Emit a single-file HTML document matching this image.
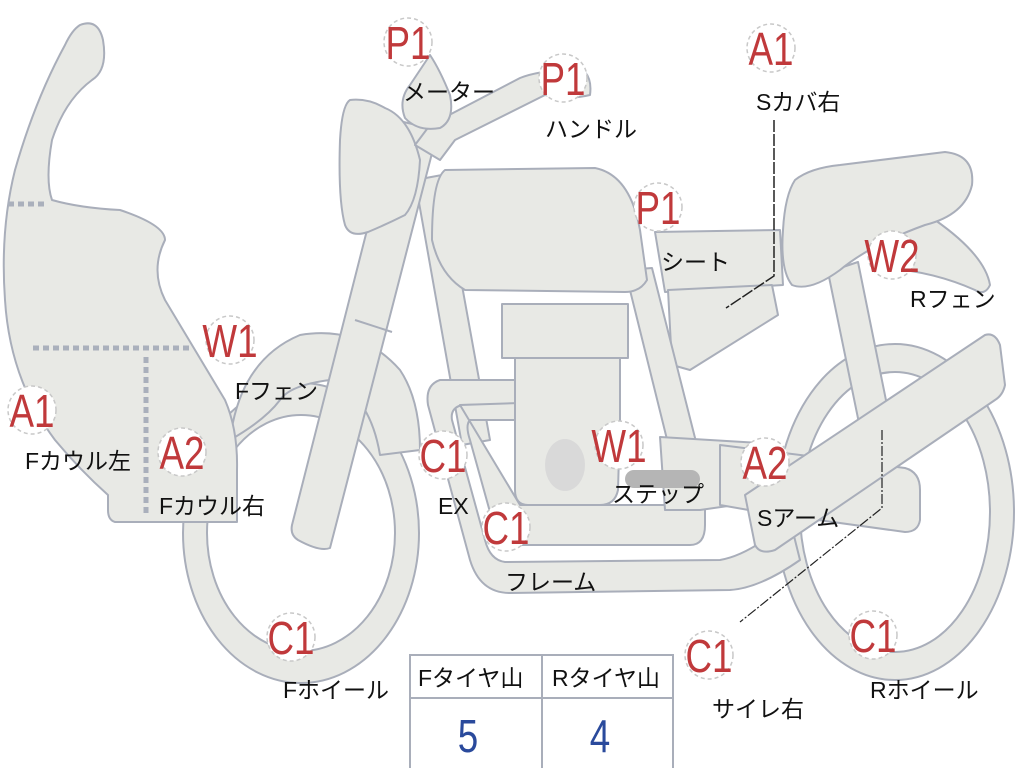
<!DOCTYPE html>
<html><head><meta charset="utf-8"><style>
html,body{margin:0;padding:0;background:#fff;}
svg{display:block;}
.s{fill:#e8e9e5;stroke:#a9aeba;stroke-width:2;stroke-linejoin:round;}
.b circle{fill:#fff;stroke:#c8c8c8;stroke-width:1.5;stroke-dasharray:4 3;}
.b text{fill:#c0393b;font-family:"Liberation Sans",sans-serif;font-size:46px;text-anchor:middle;}
.l{font-family:"Liberation Sans","Noto Sans CJK JP",sans-serif;font-size:23px;fill:#111;}
</style></head><body>
<svg width="1024" height="768" viewBox="0 0 1024 768" xmlns="http://www.w3.org/2000/svg">
<!-- rear wheel -->
<ellipse cx="895" cy="512" rx="119" ry="168" class="s"/>
<ellipse cx="895" cy="512" rx="95" ry="140" fill="#fff" stroke="#a9aeba" stroke-width="2"/>
<!-- front wheel -->
<ellipse cx="301" cy="533" rx="118" ry="150" class="s"/>
<ellipse cx="301" cy="533" rx="94" ry="118" fill="#fff" stroke="#a9aeba" stroke-width="2"/>
<!-- rear shock -->
<path class="s" d="M828 272 L858 262 L890 420 L860 428 Z"/>
<!-- rear fender -->
<path class="s" d="M880 240 Q910 215 935 220 Q985 255 990 285 Q985 296 975 290 Q930 270 880 268 Z"/>
<!-- seat -->
<path class="s" d="M795 180 Q810 168 840 165 L945 152 Q975 155 972 185 Q965 215 925 225 Q870 245 840 270 Q810 292 792 285 Q780 270 783 230 Q785 195 795 180 Z"/>
<path class="s" d="M655 232 L780 230 L783 285 L665 292 Z"/>
<path class="s" d="M668 290 L772 285 L778 315 L690 370 L672 365 Z"/>
<!-- front fender -->
<path class="s" d="M230 440 Q240 360 300 335 Q360 325 400 370 Q420 400 420 450 L380 455 Q370 395 330 380 Q290 385 280 400 Q265 420 230 440 Z"/>
<!-- frame tubes -->
<path class="s" d="M415 180 L442 175 L490 440 L462 445 Z"/>
<path class="s" d="M625 270 L652 268 L712 505 L684 508 Z"/>
<path class="s" d="M440 380 Q425 385 428 405 L470 560 Q480 593 510 593 L730 590 Q760 588 800 560 L790 520 Q750 555 720 560 L505 562 Q490 560 485 540 L452 420 Q450 408 462 405 L520 404 L520 380 Z"/>
<path class="s" d="M460 405 L520 403 L520 420 L470 420 Q465 425 470 440 L495 530 Q500 545 515 545 L690 545 Q705 545 705 525 L705 505 L690 505 L650 505 L520 505 Z"/>
<!-- engine -->
<path class="s" d="M515 355 L620 355 L620 420 L618 490 Q615 505 600 505 L528 505 Q515 505 515 490 Z"/>
<rect class="s" x="502" y="304" width="126" height="54"/>
<ellipse cx="565" cy="465" rx="20" ry="26" fill="#d9d9d9"/>
<path class="s" d="M660 437 L760 443 L770 500 L700 510 L665 510 Z"/>
<rect x="625" y="470" width="75" height="18" rx="9" fill="#b5b5b5"/>
<!-- swing arm / muffler -->
<path class="s" d="M720 445 L905 468 Q920 472 920 490 L920 520 Q918 532 905 532 L760 512 L720 505 Z"/>
<path class="s" d="M745 495 L985 335 Q995 332 1000 345 L1005 385 Q1003 395 995 400 L775 550 Q760 555 755 545 Z"/>
<!-- tank -->
<path class="s" d="M445 170 L595 168 Q630 175 640 230 L647 280 Q640 292 625 292 L465 290 Q440 275 432 240 Q432 180 445 170 Z"/>
<!-- fork -->
<path class="s" d="M395 120 L438 130 L330 548 Q320 552 298 540 Q290 535 292 525 Z"/>
<path class="s" d="M355 320 L392 332" fill="none"/>
<!-- headlight -->
<path class="s" d="M350 100 Q368 98 385 108 Q410 118 420 160 Q418 200 405 215 Q385 225 368 232 Q350 238 345 225 Q338 200 340 140 Q342 105 350 100 Z"/>
<!-- handlebar -->
<path class="s" d="M415 145 L430 125 L520 78 Q545 68 585 72 Q592 80 590 95 Q570 100 545 95 L455 140 L440 160 Z"/>
<!-- meter -->
<path class="s" d="M430 55 Q440 70 450 95 Q455 120 440 128 Q418 132 405 118 Q398 100 410 85 Z"/>
<!-- fairing -->
<path class="s" d="M80 25 Q98 18 103 40 Q108 70 92 80 Q65 100 52 140 Q45 180 52 200 Q80 208 120 210 Q165 225 165 240 Q150 270 165 300 Q195 350 225 400 Q238 430 237 470 L237 522 L115 522 Q108 520 108 510 L108 495 Q80 470 55 440 Q10 380 5 300 Q0 230 15 170 Q35 100 65 45 Q72 30 80 25 Z"/>
<path d="M8 204 L48 204" stroke="#aab0bc" stroke-width="5" stroke-dasharray="6 4" fill="none"/>
<path d="M33 348 L190 348" stroke="#aab0bc" stroke-width="5" stroke-dasharray="6 4" fill="none"/>
<path d="M146 357 L146 515" stroke="#aab0bc" stroke-width="5" stroke-dasharray="6 4" fill="none"/>
<!-- leader lines -->
<path d="M774 120 L774 276 L726 308" stroke="#222" stroke-width="1.5" fill="none" stroke-dasharray="12 2"/>
<path d="M882 430 L882 508 L740 622" stroke="#222" stroke-width="1.2" fill="none" stroke-dasharray="10 2 2 2"/>
<!-- badges -->
<g class="b">
<circle cx="408" cy="42" r="24"/><text transform="translate(408,59) scale(0.8,1)">P1</text>
<circle cx="563" cy="78" r="24"/><text transform="translate(563,95) scale(0.8,1)">P1</text>
<circle cx="771" cy="48" r="24"/><text transform="translate(771,65) scale(0.8,1)">A1</text>
<circle cx="658" cy="207" r="24"/><text transform="translate(658,224) scale(0.8,1)">P1</text>
<circle cx="892" cy="255" r="24"/><text transform="translate(892,272) scale(0.8,1)">W2</text>
<circle cx="230" cy="340" r="24"/><text transform="translate(230,357) scale(0.8,1)">W1</text>
<circle cx="32" cy="410" r="24"/><text transform="translate(32,427) scale(0.8,1)">A1</text>
<circle cx="182" cy="452" r="24"/><text transform="translate(182,469) scale(0.8,1)">A2</text>
<circle cx="443" cy="455" r="24"/><text transform="translate(443,472) scale(0.8,1)">C1</text>
<circle cx="619" cy="445" r="24"/><text transform="translate(619,462) scale(0.8,1)">W1</text>
<circle cx="765" cy="462" r="24"/><text transform="translate(765,479) scale(0.8,1)">A2</text>
<circle cx="506" cy="527" r="24"/><text transform="translate(506,544) scale(0.8,1)">C1</text>
<circle cx="291" cy="637" r="24"/><text transform="translate(291,654) scale(0.8,1)">C1</text>
<circle cx="709" cy="655" r="24"/><text transform="translate(709,672) scale(0.8,1)">C1</text>
<circle cx="873" cy="635" r="24"/><text transform="translate(873,652) scale(0.8,1)">C1</text>
</g>
<!-- labels -->
<text class="l" x="403" y="100">メーター</text>
<text class="l" x="545" y="137">ハンドル</text>
<text class="l" x="756" y="110">Sカバ右</text>
<text class="l" x="661" y="270">シート</text>
<text class="l" x="910" y="307">Rフェン</text>
<text class="l" x="235" y="399">Fフェン</text>
<text class="l" x="25" y="469">Fカウル左</text>
<text class="l" x="159" y="514">Fカウル右</text>
<text class="l" x="438" y="514">EX</text>
<text class="l" x="612" y="502">ステップ</text>
<text class="l" x="757" y="526">Sアーム</text>
<text class="l" x="505" y="590">フレーム</text>
<text class="l" x="283" y="698">Fホイール</text>
<text class="l" x="712" y="717">サイレ右</text>
<text class="l" x="870" y="698">Rホイール</text>
<!-- table -->
<rect x="410" y="655" width="263" height="115" fill="#fff" stroke="#a9aeba" stroke-width="2"/>
<line x1="410" y1="698" x2="673" y2="698" stroke="#a9aeba" stroke-width="2"/>
<line x1="542" y1="655" x2="542" y2="768" stroke="#a9aeba" stroke-width="2"/>
<text class="l" x="418" y="686">Fタイヤ山</text>
<text class="l" x="552" y="686">Rタイヤ山</text>
<text transform="translate(468,752) scale(0.8,1)" font-family="Liberation Sans,sans-serif" font-size="46" fill="#2a4a9c" text-anchor="middle">5</text>
<text transform="translate(600,752) scale(0.8,1)" font-family="Liberation Sans,sans-serif" font-size="46" fill="#2a4a9c" text-anchor="middle">4</text>
</svg>
</body></html>
